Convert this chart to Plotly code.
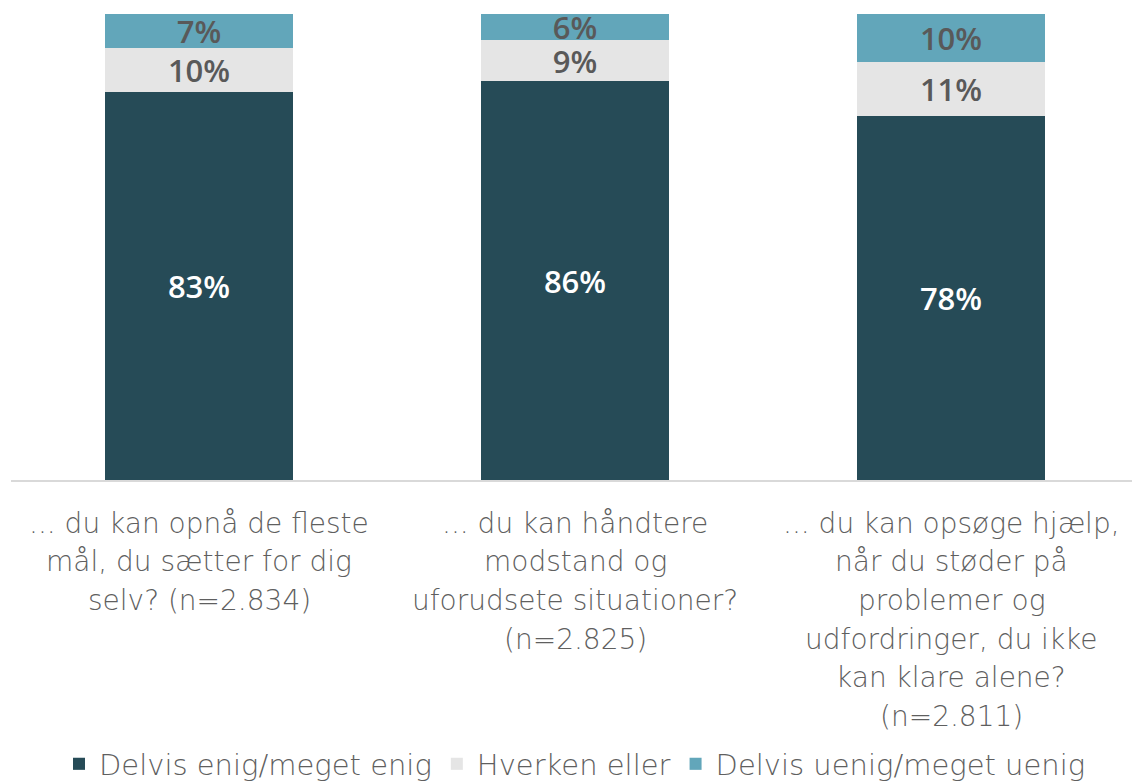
import plotly.graph_objects as go

categories = [
    "... du kan opnå de fleste<br>mål, du sætter for dig<br>selv? (n=2.834)",
    "... du kan håndtere<br>modstand og<br>uforudsete situationer?<br>(n=2.825)",
    "... du kan opsøge hjælp,<br>når du støder på<br>problemer og<br>udfordringer, du ikke<br>kan klare alene?<br>(n=2.811)",
]
series_names = ["Delvis enig/meget enig", "Hverken eller", "Delvis uenig/meget uenig"]
enig = [83.2, 85.6, 78.2]
hverken = [9.6, 8.8, 11.4]
uenig = [7.2, 5.6, 10.4]

colors = ["#264B57", "#E5E5E5", "#62A6BA"]
text_colors = ["#FFFFFF", "#595959", "#595959"]

# the page body adds an 8px offset; figure coordinates are page coordinates minus 8
OFF = 8
W, H = 1140 - OFF, 783 - OFF
TOP, PLOT_H = 14 - OFF, 466
LEFT, PLOT_W = 11 - OFF, 1128

fig = go.Figure()
for name, vals, col, tcol in zip(series_names, [enig, hverken, uenig], colors, text_colors):
    fig.add_trace(go.Bar(
        x=categories, y=vals, name=name,
        marker=dict(color=col, line=dict(width=0)),
        texttemplate="%{y:.0f}%", textposition="inside", insidetextanchor="middle",
        constraintext="none",
        textfont=dict(family="Open Sans", size=31, color=tcol, weight=600),
    ))

# multi-line category labels drawn line by line (for wider line spacing)
line_gap = 38.7
first_line_px = 523 - OFF
base_px = TOP + PLOT_H
for cat in categories:
    for i, line in enumerate(cat.split("<br>")):
        px = first_line_px + i * line_gap
        fig.add_annotation(
            x=cat, xref="x", y=-(px - base_px) / PLOT_H, yref="paper",
            text=line, showarrow=False, xanchor="center", yanchor="middle",
            font=dict(family="DejaVu Sans", size=28, color="#5F5F5F", weight=200),
        )

fig.update_layout(
    barmode="stack", bargap=0.5,
    width=W, height=H,
    margin=dict(l=LEFT, r=W - LEFT - PLOT_W, t=TOP, b=H - TOP - PLOT_H, autoexpand=False),
    plot_bgcolor="white", paper_bgcolor="white",
    font=dict(family="Open Sans", color="#595959"),
    showlegend=True,
    legend=dict(orientation="h", x=0.5, xanchor="center",
                y=-((764 - OFF) - base_px) / PLOT_H, yanchor="middle",
                font=dict(family="DejaVu Sans", size=29, color="#5F5F5F", weight=200),
                traceorder="normal"),
    xaxis=dict(showline=True, linecolor="#D9D9D9", linewidth=2, ticks="",
               showticklabels=False, automargin=False),
    yaxis=dict(range=[0, 100], visible=False, automargin=False),
)
fig.write_html("out.html")
